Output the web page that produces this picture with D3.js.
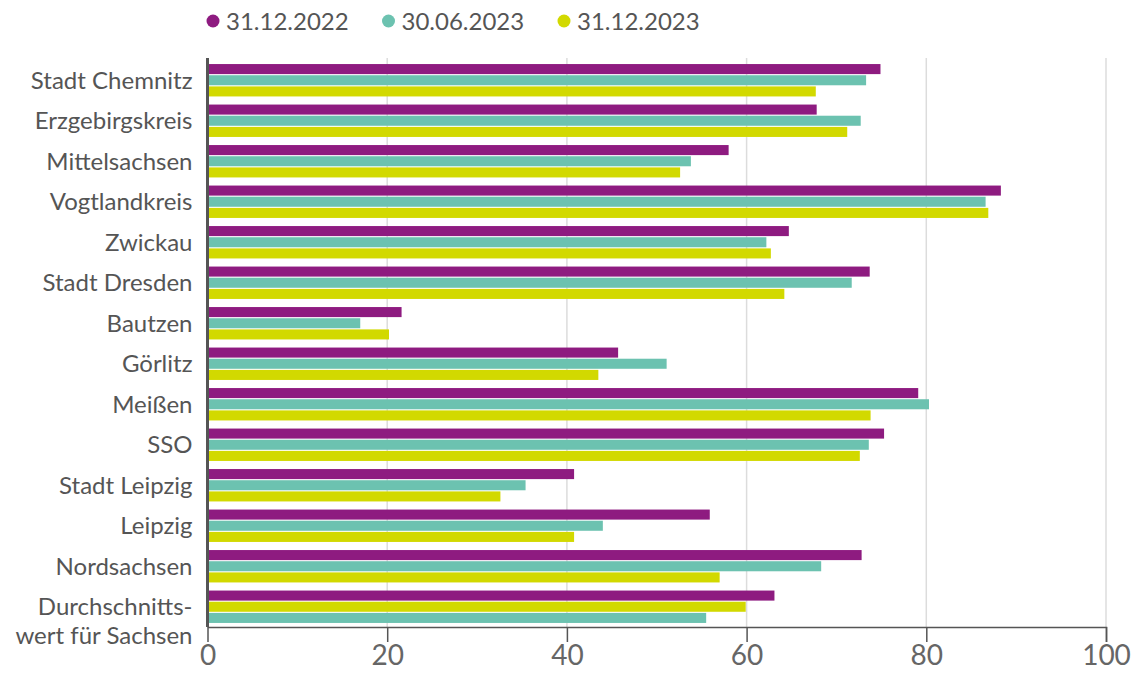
<!DOCTYPE html>
<html>
<head>
<meta charset="utf-8">
<script src="https://cdn.jsdelivr.net/npm/d3@7"></script>
<style>
  body { margin: 0; background: #fff; }
  svg { display: block; font-family: Lato, "Open Sans", sans-serif; }
</style>
</head>
<body>
<div id="chart"></div>
<script>
// categories (top to bottom)
var categories = ["Stadt Chemnitz", "Erzgebirgskreis", "Mittelsachsen", "Vogtlandkreis", "Zwickau",
  "Stadt Dresden", "Bautzen", "Görlitz", "Meißen", "SSO", "Stadt Leipzig", "Leipzig ", "Nordsachsen",
  "Durchschnitts-\nwert für Sachsen"];

var seriesNames = ["31.12.2022", "30.06.2023", "31.12.2023"];
var seriesColors = ["#8e1b80", "#6cc2b0", "#d2d900"];

var values2022 = [74.9, 67.8, 58.0, 88.3, 64.7, 73.7, 21.6, 45.7, 79.1, 75.3, 40.8, 55.9, 72.8, 63.1];
var values2023a = [73.3, 72.7, 53.8, 86.6, 62.2, 71.7, 17.0, 51.1, 80.3, 73.6, 35.4, 44.0, 68.3, 55.5];
var values2023b = [67.7, 71.2, 52.6, 86.9, 62.7, 64.2, 20.2, 43.5, 73.8, 72.6, 32.6, 40.8, 57.0, 59.9];

// slot order of the series inside each group (the last group has yellow before teal)
var slotOrder = [[0, 1, 2], [0, 1, 2], [0, 1, 2], [0, 1, 2], [0, 1, 2], [0, 1, 2], [0, 1, 2],
  [0, 1, 2], [0, 1, 2], [0, 1, 2], [0, 1, 2], [0, 1, 2], [0, 1, 2], [0, 2, 1]];

var xTicks = [0, 20, 40, 60, 80, 100];

var allValues = [values2022, values2023a, values2023b];

var W = 1142, H = 673;
var margin = { top: 58, right: 36, bottom: 46, left: 207.5 };
var width = W - margin.left - margin.right,
    height = H - margin.top - margin.bottom;

var svg = d3.select("#chart").append("svg")
  .attr("width", W).attr("height", H);

var g = svg.append("g").attr("transform", "translate(" + margin.left + "," + margin.top + ")");

var x = d3.scaleLinear().domain([0, 100]).range([0, width]);
var y = d3.scaleBand().domain(categories).range([2, height]).paddingInner(0.2).paddingOuter(0.1);
var ySub = d3.scaleBand().domain([0, 1, 2]).range([0, y.bandwidth()]).paddingInner(0.1);

// gridlines
g.append("g")
  .selectAll("line.grid")
  .data(xTicks.filter(function (d) { return d > 0; }))
  .enter().append("line")
  .attr("class", "grid")
  .attr("x1", function (d) { return x(d); })
  .attr("x2", function (d) { return x(d); })
  .attr("y1", 0).attr("y2", height)
  .attr("stroke", "#dcdcdc")
  .attr("stroke-width", 1.5);

// bars
var rows = [];
categories.forEach(function (c, i) {
  seriesNames.forEach(function (s, k) {
    rows.push({ cat: c, series: k, slot: slotOrder[i][k], value: allValues[k][i] });
  });
});

g.append("g")
  .selectAll("rect")
  .data(rows)
  .enter().append("rect")
  .attr("x", x(0))
  .attr("y", function (d) { return y(d.cat) + ySub(d.slot); })
  .attr("width", function (d) { return x(d.value) - x(0); })
  .attr("height", ySub.bandwidth())
  .attr("fill", function (d) { return seriesColors[d.series]; });

// x axis
var xAxis = g.append("g")
  .attr("transform", "translate(0," + height + ")")
  .call(d3.axisBottom(x).tickValues(xTicks).tickSize(15).tickPadding(4));
xAxis.select(".domain").attr("stroke", "#555").attr("stroke-width", 1.5);
xAxis.selectAll(".tick line").attr("stroke", "#555").attr("stroke-width", 1.5)
  .filter(function (d) { return d === 0; }).remove();
xAxis.selectAll(".tick text")
  .attr("font-family", "Lato, sans-serif")
  .attr("font-size", 28)
  .attr("fill", "#666")
  .attr("dy", "0.72em")
  .attr("y", 18);

// y axis line
g.append("line")
  .attr("x1", 0).attr("x2", 0)
  .attr("y1", 0).attr("y2", height)
  .attr("stroke", "#555")
  .attr("stroke-width", 3);

// category labels
var labels = g.append("g")
  .selectAll("text.cat")
  .data(categories)
  .enter().append("text")
  .attr("class", "cat")
  .attr("text-anchor", "end")
  .attr("font-size", 24)
  .attr("fill", "#555");

labels.each(function (d) {
  var lines = d.split("\n");
  var t = d3.select(this);
  var cy = y(d) + y.bandwidth() / 2;
  lines.forEach(function (line, j) {
    t.append("tspan")
      .attr("x", -15)
      .attr("y", cy + j * 29)
      .attr("dy", "0.35em")
      .text(line);
  });
});

// legend
var legend = svg.append("g").attr("transform", "translate(213,21)");
var item = legend.selectAll("g")
  .data(seriesNames)
  .enter().append("g")
  .attr("transform", function (d, i) { return "translate(" + (i * 175.5) + ",0)"; });
item.append("circle").attr("r", 6.5).attr("fill", function (d, i) { return seriesColors[i]; });
item.append("text")
  .attr("x", 13)
  .attr("dy", "0.36em")
  .attr("font-size", 24)
  .attr("fill", "#555")
  .text(function (d) { return d; });
</script>
</body>
</html>
